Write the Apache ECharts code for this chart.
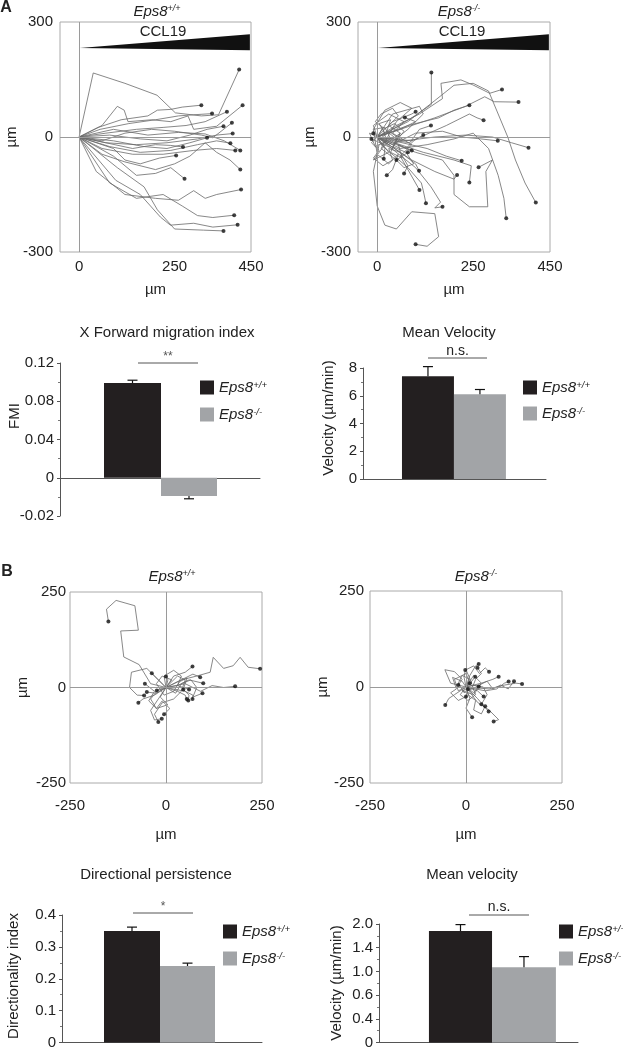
<!DOCTYPE html>
<html><head><meta charset="utf-8">
<script src="https://cdn.jsdelivr.net/npm/echarts@6/dist/echarts.min.js"></script>
<style>html,body{margin:0;padding:0;background:#fff}#c{width:623px;height:1050px}</style>
</head><body><div id="c"></div>
<script>
const FONT = "'Liberation Sans', Arial, Helvetica, sans-serif";
const genotypes = ['Eps8+/+', 'Eps8-/-'];
const genotypeSup = ['+/+', '-/-'];

// ---- Panel A: tracks in CCL19 gradient (µm) ----
const wtTracksA = [
  [[0,0],[37,167],[120,140],[204,109],[252,63],[320,55],[365,58],[419,176]],
  [[0,0],[60,30],[100,80],[118,70],[128,40],[190,45],[240,40],[285,55],[300,20],[360,28],[428,83]],
  [[0,0],[50,25],[110,45],[180,55],[205,70],[240,72],[270,78],[320,83]],
  [[0,0],[55,20],[130,35],[200,45],[260,55],[300,58],[348,61]],
  [[0,0],[70,10],[150,20],[220,25],[280,30],[330,40],[387,66]],
  [[0,0],[60,-10],[120,10],[190,20],[250,15],[320,5],[350,-2],[400,37]],
  [[0,0],[80,5],[160,-5],[230,-10],[290,5],[335,20],[378,28]],
  [[0,0],[70,-15],[150,-20],[230,-15],[310,-5],[360,5],[402,9]],
  [[0,0],[90,-10],[170,-25],[230,-30],[290,-15],[335,-2]],
  [[0,0],[80,-25],[160,-40],[240,-35],[310,-20],[360,-10],[396,-16]],
  [[0,0],[60,-30],[140,-45],[220,-45],[300,-35],[360,-30],[409,-35]],
  [[0,0],[70,-15],[140,-30],[200,-20],[240,-22],[272,-26]],
  [[0,0],[90,-30],[120,-60],[160,-70],[210,-55],[254,-48]],
  [[0,0],[60,-45],[120,-65],[200,-85],[250,-70],[290,-50],[330,-15],[360,-40],[395,-60],[422,-85]],
  [[0,0],[90,-50],[150,-100],[200,-95],[240,-80],[276,-109]],
  [[0,0],[45,-90],[120,-150],[200,-160],[260,-165],[300,-140],[330,-160],[360,-150],[424,-137]],
  [[0,0],[80,-120],[150,-160],[220,-150],[270,-180],[310,-205],[350,-210],[406,-204]],
  [[0,0],[96,-113],[160,-150],[213,-209],[239,-230],[300,-225],[350,-235],[415,-229]],
  [[0,0],[100,-80],[170,-130],[205,-190],[250,-240],[326,-243],[378,-245]],
  [[0,0],[90,20],[180,5],[260,12],[330,8],[380,-10],[422,-35]]
];
const koTracksA = [
  [[0,-10],[40,20],[90,50],[141,85],[141,168]],
  [[0,0],[50,30],[110,60],[170,100],[166,140],[218,149],[249,136],[293,114],[325,124]],
  [[0,0],[60,20],[150,50],[230,80],[280,105],[305,92],[368,91]],
  [[0,0],[80,40],[150,95],[200,135],[250,140],[290,120],[315,60],[340,0],[360,-60],[385,-120],[413,-171]],
  [[0,0],[40,-20],[100,10],[170,15],[220,0],[270,-5],[314,-10]],
  [[0,0],[70,-10],[150,0],[230,5],[300,0],[350,-15],[394,-28]],
  [[0,0],[60,-30],[130,-20],[200,-5],[250,10],[290,-30],[315,-100],[330,-160],[336,-212]],
  [[0,0],[80,30],[160,50],[200,70],[240,83]],
  [[0,0],[90,-10],[180,30],[240,60],[260,50],[277,44]],
  [[5,-20],[-10,-90],[0,-180],[20,-230],[50,-240],[90,-195],[150,-200],[160,-260],[130,-285],[100,-280]],
  [[0,0],[100,-40],[170,-60],[200,-100],[200,-150],[240,-182],[288,-182],[283,-90],[300,-60],[264,-79]],
  [[0,0],[60,-40],[100,-70],[109,-88]],
  [[10,-20],[80,-80],[115,-120],[120,-140],[127,-173]],
  [[0,0],[90,-60],[150,-90],[200,-110],[208,-99]],
  [[0,0],[120,-40],[200,-60],[245,-75],[240,-119]],
  [[0,0],[130,-30],[180,-50],[220,-62]],
  [[0,0],[60,20],[100,40],[72,51]],
  [[0,0],[40,40],[90,60],[100,66]],
  [[0,0],[20,-30],[17,-57]],
  [[0,0],[100,-80],[140,-130],[165,-170],[150,-185],[170,-182]],
  [[0,0],[-10,30],[30,60],[70,40],[40,10],[90,-20],[60,-50],[110,-138]],
  [[0,0],[30,-40],[-10,-60],[20,-20],[60,10],[40,-30],[-15,-5]],
  [[0,0],[40,60],[110,80],[120,60],[80,20],[30,-20],[-10,10]],
  [[-10,20],[20,70],[60,90],[90,75],[50,40],[10,-30],[50,-60],[80,-40]],
  [[0,0],[15,25],[-5,40],[10,60],[40,75],[55,55],[30,30],[60,10],[45,-15],[75,-30],[95,-10],[120,5]],
  [[0,0],[-15,-15],[5,-35],[-10,-55],[15,-75],[40,-60],[30,-30],[60,-40],[80,-75],[70,-95]],
  [[0,0],[20,10],[5,35],[35,45],[25,15],[50,-5],[35,-40],[65,-55],[55,-20],[90,-35]],
  [[0,0],[-20,10],[-5,-25],[25,-10],[15,20],[45,35],[70,15],[50,-10],[85,-15],[110,20],[140,30]],
  [[0,0],[10,-20],[35,-5],[20,25],[-10,20],[0,-45],[30,-70],[55,-45],[40,-85],[25,-100]],
  [[0,0],[30,15],[60,-5],[40,-25],[75,-40],[95,-70],[70,-80],[50,-60]]
];
// ---- Panel B: tracks without gradient (µm) ----
const wtTracksB = [
  [[0,0],[-40,10],[-70,60],[-110,80],[-118,148],[-72,150],[-81,214],[-130,228],[-155,205],[-150,173]],
  [[0,0],[-50,50],[-90,40],[-95,0],[-75,-20],[-57,-21]],
  [[0,0],[40,20],[80,30],[115,40],[123,79],[150,50],[175,57],[193,79],[214,53],[245,49]],
  [[0,0],[50,10],[90,-10],[120,5],[150,0],[180,3]],
  [[0,0],[20,30],[50,40],[69,55]],
  [[0,0],[40,20],[70,35],[89,27]],
  [[0,0],[30,5],[60,20],[97,11]],
  [[0,0],[30,-10],[50,-20],[54,-30]],
  [[0,0],[40,0],[60,-20],[58,-34]],
  [[0,0],[50,-10],[70,-20],[69,-30]],
  [[0,0],[-20,20],[-37,37]],
  [[0,0],[5,20],[0,29]],
  [[0,0],[-20,-30],[-40,-60],[-30,-85],[-11,-82]],
  [[0,0],[-30,-20],[-60,-30],[-72,-40]],
  [[0,0],[-10,-5],[-24,-8]],
  [[0,0],[-25,-15],[-50,-12]],
  [[0,0],[30,30],[50,20],[40,-10],[20,-30],[-10,-40],[-30,-70],[-20,-90]],
  [[0,0],[15,20],[-10,30],[-25,10],[-5,-20],[20,-10],[35,15],[55,25],[45,-5]],
  [[0,0],[-15,-25],[5,-45],[-25,-55],[-45,-35],[-30,-10],[-55,10]],
  [[0,0],[25,-15],[40,10],[65,20],[80,0],[70,-25],[95,-15]],
  [[0,0],[-5,30],[20,45],[40,30],[30,5],[60,-5]],
  [[0,0],[-20,-5],[-40,-30],[-25,-55],[-10,-35],[10,-55],[-5,-70]]
];
const koTracksB = [
  [[0,0],[10,30],[25,55],[33,60]],
  [[0,0],[-5,25],[-2,44]],
  [[0,0],[15,15],[24,27]],
  [[0,0],[40,10],[70,20],[85,27]],
  [[0,0],[50,-10],[80,-5],[100,10],[111,14]],
  [[0,0],[60,-5],[100,5],[130,10],[146,8]],
  [[0,0],[-30,-20],[-45,-30],[-54,-47]],
  [[0,0],[10,-30],[0,-55],[16,-79]],
  [[0,0],[30,-40],[60,-60],[85,-85],[72,-90]],
  [[0,0],[30,-30],[59,-64]],
  [[0,0],[30,-10],[46,-25]],
  [[0,0],[20,5],[33,1]],
  [[0,0],[-40,10],[-55,45],[-30,40],[-10,20],[-20,5]],
  [[0,0],[20,30],[40,10],[20,-20],[-10,-10],[5,-5]],
  [[0,0],[-20,-10],[-30,20],[0,35],[10,10]],
  [[0,0],[10,20],[-10,30],[-20,10],[-5,-15],[15,-5],[25,20],[40,35],[30,50]],
  [[0,0],[-15,-20],[5,-35],[25,-20],[15,5],[45,0],[55,-20],[40,-45]],
  [[0,0],[20,-15],[35,5],[55,15],[70,-5],[90,5],[110,-5],[125,15]],
  [[0,0],[-10,15],[-35,25],[-25,-5],[-40,-15],[-20,-35],[0,-25]],
  [[0,0],[5,-20],[25,-35],[20,-60],[40,-70],[50,-50]],
  [[0,0],[15,10],[0,45],[20,55],[35,35],[50,50],[60,40]]
];
const ccl19Wedge = [[2,232],[447,268],[447,226]];

const trackATicksX = [0, 250, 450];
const trackATicksY = [-300, 0, 300];
const trackBTicks = [-250, 0, 250];

// ---- bar charts ----
const fmiValues = [0.099, -0.019];
const fmiErrors = [0.003, 0.003];
const fmiTicks = [-0.04, 0, 0.04, 0.08, 0.12];
const fmiTickLabels = ['-0.02', '0', '0.04', '0.08', '0.12'];
const velAValues = [7.4, 6.1];
const velAErrors = [0.7, 0.35];
const dirValues = [0.35, 0.24];
const dirErrors = [0.012, 0.009];
const velBValues = [1.88, 1.27];
const velBErrors = [0.11, 0.18];
const velBTicks = [0, 0.4, 0.8, 1.2, 1.6, 2.0];
const velBTickLabels = ['0', '0.4', '0.6', '1.0', '1.4', '2.0'];
const sigLabels = ['**', 'n.s.', '*', 'n.s.'];

// ---- layout ----
const GRIDS = [
  {left:60, top:22, width:191, height:230},   // 0 A wt tracks
  {left:358, top:22, width:192, height:230},  // 1 A ko tracks
  {left:60, top:363, width:200, height:153},  // 2 FMI
  {left:363, top:368, width:183, height:111}, // 3 velocity A
  {left:70, top:592, width:192, height:191},  // 4 B wt tracks
  {left:370, top:591, width:192, height:192}, // 5 B ko tracks
  {left:62, top:915, width:200, height:130},  // 6 directionality
  {left:379, top:924, width:199, height:122}  // 7 velocity B
];
const BAR_SPANS = {
  2: [[0.22,0.505],[0.505,0.785]],
  3: [[0.213,0.497],[0.497,0.781]],
  6: [[0.21,0.49],[0.49,0.765]],
  7: [[0.251,0.568],[0.568,0.889]]
};
const COLORS = ['#231f20', '#a2a4a7'];
const TXT = '#222';

const richE = {
  i: {fontFamily: FONT, fontStyle:'italic', fontSize:15, lineHeight:16, color:TXT},
  s: {fontFamily: FONT, fontStyle:'italic', fontSize:9, lineHeight:9, verticalAlign:'top', color:TXT}
};

const grid = GRIDS.map((g, i) => Object.assign({
  containLabel:false,
  show: [0,1,4,5].includes(i),
  borderColor:'#aaaaaa', borderWidth:1, backgroundColor:'transparent'
}, g));

const xAxis = [], yAxis = [];
function trackAxes(gi, xr, yr, xt, yt, xGap, yGap, xMargin, yMargin) {
  xAxis[gi] = {gridIndex:gi, type:'value', min:xr[0], max:xr[1],
    axisLine:{show:false}, axisTick:{show:false}, splitLine:{show:false},
    axisLabel:{customValues:xt, margin:xMargin, fontFamily:FONT, fontSize:15, color:TXT, showMinLabel:true, showMaxLabel:true},
    name:'µm', nameLocation:'middle', nameGap:xGap, nameTextStyle:{fontFamily:FONT, fontSize:15, color:TXT}};
  yAxis[gi] = {gridIndex:gi, type:'value', min:yr[0], max:yr[1],
    axisLine:{show:false}, axisTick:{show:false}, splitLine:{show:false},
    axisLabel:{customValues:yt, margin:yMargin, fontFamily:FONT, fontSize:15, color:TXT, showMinLabel:true, showMaxLabel:true},
    name:'µm', nameLocation:'middle', nameGap:yGap, nameTextStyle:{fontFamily:FONT, fontSize:15, color:TXT}};
}
trackAxes(0, [-50,450], [-300,300], trackATicksX, trackATicksY, 30, 30, 7, 7);
trackAxes(1, [-50,450], [-300,300], trackATicksX, trackATicksY, 30, 20, 7, 7);
trackAxes(4, [-250,250], [-250,250], trackBTicks, trackBTicks, 44, 40, 15, 4);
trackAxes(5, [-250,250], [-250,250], trackBTicks, trackBTicks, 44, 31, 15, 6);

function barAxes(gi, ymin, ymax, step, fmt) {
  xAxis[gi] = {gridIndex:gi, type:'value', min:0, max:1,
    axisLine:{show:true, onZero:true, lineStyle:{color:'#555', width:1}},
    axisTick:{show:false}, axisLabel:{show:false}, splitLine:{show:false}};
  yAxis[gi] = {gridIndex:gi, type:'value', min:ymin, max:ymax, interval:step,
    axisLine:{show:true, onZero:false, lineStyle:{color:'#555', width:1}},
    axisTick:{show:true, length:3, lineStyle:{color:'#555'}},
    minorTick:{show:true, splitNumber:2, length:2, lineStyle:{color:'#777'}},
    splitLine:{show:false},
    axisLabel:{margin:6, fontFamily:FONT, fontSize:15, color:TXT, formatter: fmt}};
}
const lookup = (ticks, labels) => v => { const k = ticks.findIndex(t => Math.abs(t - v) < 1e-9); return k >= 0 ? labels[k] : ''; };
barAxes(2, -0.04, 0.12, 0.04, lookup(fmiTicks, fmiTickLabels));
barAxes(3, 0, 8, 2, v => String(v));
barAxes(6, 0, 0.4, 0.1, v => String(+v.toFixed(1)));
barAxes(7, 0, 2.0, 0.4, lookup(velBTicks, velBTickLabels));

const series = [];
function addTracks(tracks, gi, prefix) {
  tracks.forEach((t, k) => {
    const s = {type:'line', name:prefix + k, xAxisIndex:gi, yAxisIndex:gi, data:t,
      symbol:'none', showSymbol:false, silent:true, z:3,
      lineStyle:{color:'#6a6a6a', width:0.8}};
    if (k === 0) {
      s.markLine = {silent:true, symbol:'none', label:{show:false}, animation:false,
        lineStyle:{color:'#9a9a9a', width:1, type:'solid'},
        data:[{xAxis:0}, {yAxis:0}]};
    }
    series.push(s);
  });
  series.push({type:'scatter', name:prefix + 'end', xAxisIndex:gi, yAxisIndex:gi,
    data: tracks.map(t => t[t.length - 1]), symbol:'circle', symbolSize:4,
    itemStyle:{color:'#111'}, silent:true, z:5});
}
addTracks(wtTracksA, 0, 'wtA');
addTracks(koTracksA, 1, 'koA');
addTracks(wtTracksB, 4, 'wtB');
addTracks(koTracksB, 5, 'koB');

[0, 1].forEach(gi => {
  series.push({type:'custom', name:'wedge' + gi, xAxisIndex:gi, yAxisIndex:gi, silent:true, z:4,
    data:[[0,0]],
    renderItem: (p, api) => ({type:'polygon', shape:{points: ccl19Wedge.map(q => api.coord(q))}, style:{fill:'#111'}})
  });
});

function addBars(gi, values, errors) {
  const spans = BAR_SPANS[gi];
  values.forEach((v, k) => {
    series.push({type:'custom', name:genotypes[k], xAxisIndex:gi, yAxisIndex:gi, silent:true, z:4,
      itemStyle:{color:COLORS[k]},
      data:[[k, v, errors[k]]],
      renderItem: (params, api) => {
        const idx = api.value(0), val = api.value(1), e = api.value(2);
        const s = spans[idx];
        const a = api.coord([s[0], 0]), b = api.coord([s[1], val]);
        const cx = (a[0] + b[0]) / 2;
        const tip = api.coord([s[0], val + (val >= 0 ? e : -e)])[1];
        return {type:'group', children:[
          {type:'rect', shape:{x:a[0], y:Math.min(a[1], b[1]), width:b[0] - a[0], height:Math.abs(a[1] - b[1])},
            style:{fill:api.visual('color')}},
          {type:'line', shape:{x1:cx, y1:b[1], x2:cx, y2:tip}, style:{stroke:'#111', lineWidth:1.2}},
          {type:'line', shape:{x1:cx - 5, y1:tip, x2:cx + 5, y2:tip}, style:{stroke:'#111', lineWidth:1.2}}
        ]};
      }
    });
  });
}
addBars(2, fmiValues, fmiErrors);
addBars(3, velAValues, velAErrors);
addBars(6, dirValues, dirErrors);
addBars(7, velBValues, velBErrors);

function mkLegend(left, top, gap) {
  return {left, top, padding:0, orient:'vertical', icon:'rect', itemWidth:14, itemHeight:14, itemGap:gap,
    selectedMode:false, data:genotypes,
    formatter: n => '{i|Eps8}{s|' + genotypeSup[genotypes.indexOf(n)] + '}',
    textStyle:{rich:{
      i:{fontFamily:FONT, fontStyle:'italic', fontSize:15, lineHeight:14, color:TXT},
      s:{fontFamily:FONT, fontStyle:'italic', fontSize:9.5, lineHeight:9, verticalAlign:'top', color:TXT}}}};
}
const legend = [mkLegend(200, 380, 12), mkLegend(523, 380, 11), mkLegend(223, 924, 12), mkLegend(559, 924, 12)];

const txt = (x, y, text, opts) => ({type:'text', x, y, silent:true, z:10,
  style:Object.assign({text, fontFamily:FONT, fontSize:15, fill:TXT, align:'center', verticalAlign:'middle'}, opts || {})});
const eTitle = (x, y, k) => txt(x, y, '{i|Eps8}{s|' + genotypeSup[k] + '}', {rich:richE});
const vtxt = (x, y, text) => Object.assign(txt(x, y, text, {fontSize:15}), {rotation:Math.PI / 2});
const sig = (x1, x2, y, k, ty) => [
  {type:'line', silent:true, shape:{x1, y1:y, x2, y2:y}, style:{stroke:'#555', lineWidth:1}},
  txt((x1 + x2) / 2, ty, sigLabels[k], {fontSize: k % 2 ? 14 : 12, fill: k % 2 ? TXT : '#555'})
];

const graphic = [
  txt(6, 8, 'A', {fontSize:16, fontWeight:'bold'}),
  txt(7, 572, 'B', {fontSize:16, fontWeight:'bold'}),
  eTitle(157, 12, 0), eTitle(459, 12, 1), eTitle(172, 577, 0), eTitle(476, 577, 1),
  txt(163, 32, 'CCL19'), txt(462, 32, 'CCL19'),
  txt(167, 333, 'X Forward migration index'), txt(449, 333, 'Mean Velocity'),
  txt(156, 875, 'Directional persistence'), txt(472, 875, 'Mean velocity'),
  vtxt(15, 416, 'FMI'), vtxt(329, 418, 'Velocity (µm/min)'),
  vtxt(14, 976, 'Directionality index'), vtxt(337, 983, 'Velocity (µm/min)'),
  ...sig(138, 198, 363, 0, 357), ...sig(428, 487, 358, 1, 351),
  ...sig(133, 193, 913, 2, 907), ...sig(469, 529, 915, 3, 907)
];

const chart = echarts.init(document.getElementById('c'), null, {renderer:'canvas'});
chart.setOption({animation:false, backgroundColor:'#fff', textStyle:{fontFamily:FONT},
  grid, xAxis, yAxis, series, legend, graphic});
</script></body></html>
